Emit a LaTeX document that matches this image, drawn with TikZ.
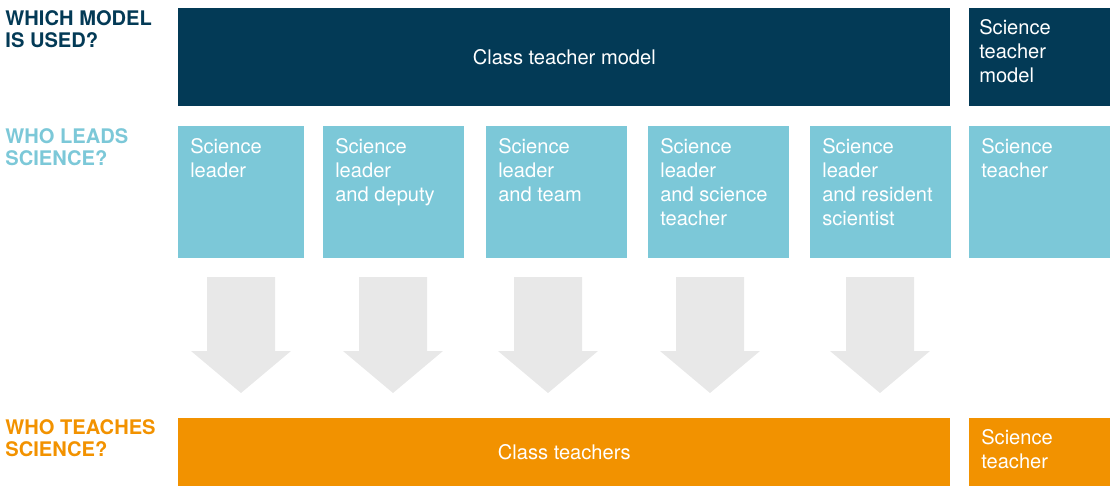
\documentclass[tikz,border=0pt]{standalone}
\usepackage{fontspec}
\setmainfont{TeX Gyre Heros}
\usetikzlibrary{positioning, calc}

\definecolor{navy}{HTML}{033A56}
\definecolor{aqua}{HTML}{7CC8D8}
\definecolor{amber}{HTML}{F29200}
\definecolor{arrowgrey}{HTML}{E8E8E8}

\begin{document}
\begin{tikzpicture}[
  box/.style={rectangle, anchor=north west, inner sep=0pt, text=white,
    font=\fontsize{14.3}{17.1}\selectfont},
  modelbox/.style={box, fill=navy, minimum height=2.45cm},
  leadbox/.style={box, fill=aqua, minimum width=3.525cm, minimum height=3.3cm},
  teachbox/.style={box, fill=amber, minimum height=1.7cm},
  lbl/.style={anchor=north west, inner sep=0pt, align=left, text=white,
    font=\fontsize{14.3}{17.1}\selectfont},
  head/.style={anchor=north west, inner sep=0pt, align=left,
    font=\fontsize{14.3}{15.6}\selectfont\bfseries},
  downarrow/.style={fill=arrowgrey}
]
\useasboundingbox (0,0) rectangle (27.85,-12.15);

% row headings on the left
\node[head, text=navy]  (h1) at (0.13,-0.25)   {WHICH MODEL\\IS USED?};
\node[head, text=aqua]  (h2) at (0.13,-3.2)    {WHO LEADS\\SCIENCE?};
\node[head, text=amber] (h3) at (0.13,-10.475) {WHO TEACHES\\SCIENCE?};

% top row: which model
\node[modelbox, minimum width=19.3cm] (cls) at (4.45,-0.2) {Class teacher model};
\node[modelbox, minimum width=3.525cm] (sci) at (24.225,-0.2) {};
\node[lbl] (scit) at ([shift={(0.25,-0.29)}]sci.north west) {Science\\teacher\\model};

% middle row: who leads
\node[leadbox, minimum width=3.15cm] (b1) at (4.45,-3.15) {};
\node[leadbox] (b2) at (8.075,-3.15) {};
\node[leadbox] (b3) at (12.15,-3.15) {};
\node[leadbox] (b4) at (16.2,-3.15) {};
\node[leadbox] (b5) at (20.25,-3.15) {};
\node[leadbox] (b6) at (24.225,-3.15) {};

\node[lbl] (t1) at ([shift={(0.3,-0.31)}]b1.north west) {Science\\leader};
\node[lbl] (t2) at ([shift={(0.3,-0.31)}]b2.north west) {Science\\leader\\and deputy};
\node[lbl] (t3) at ([shift={(0.3,-0.31)}]b3.north west) {Science\\leader\\and team};
\node[lbl] (t4) at ([shift={(0.3,-0.31)}]b4.north west) {Science\\leader\\and science\\teacher};
\node[lbl] (t5) at ([shift={(0.3,-0.31)}]b5.north west) {Science\\leader\\and resident\\scientist};
\node[lbl] (t6) at ([shift={(0.3,-0.31)}]b6.north west) {Science\\teacher};

% grey block arrows down to the class teachers bar
\foreach \ax in {6.025, 9.825, 13.7, 17.75, 22.0} {
  \fill[downarrow] (\ax-0.85,-6.925) -- (\ax+0.85,-6.925) -- (\ax+0.85,-8.775)
    -- (\ax+1.25,-8.775) -- (\ax,-9.825) -- (\ax-1.25,-8.775)
    -- (\ax-0.85,-8.775) -- cycle;
}

% bottom row: who teaches
\node[teachbox, minimum width=19.3cm] (ct) at (4.45,-10.45) {Class teachers};
\node[teachbox, minimum width=3.525cm] (st) at (24.225,-10.45) {};
\node[lbl] (stt) at ([shift={(0.3,-0.29)}]st.north west) {Science\\teacher};

\end{tikzpicture}
\end{document}
